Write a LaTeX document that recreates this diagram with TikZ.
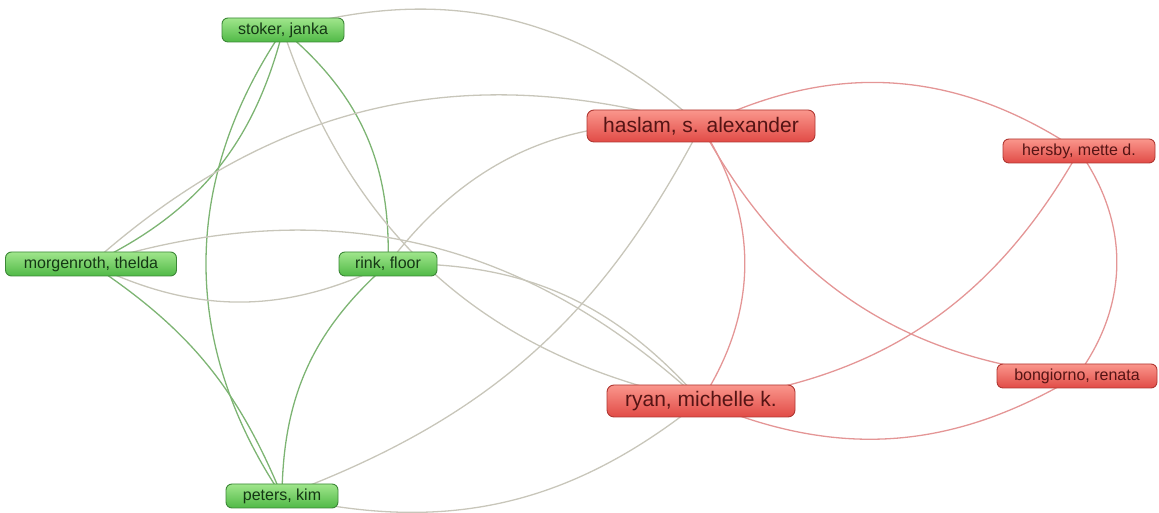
\documentclass[tikz,border=0pt]{standalone}
\usepackage{fontspec}
\setmainfont{Liberation Sans}
\usetikzlibrary{positioning,backgrounds}
\definecolor{grtop}{RGB}{160,230,140}
\definecolor{grbot}{RGB}{80,185,70}
\definecolor{grline}{RGB}{60,135,55}
\definecolor{grtext}{RGB}{20,55,20}
\definecolor{rdtop}{RGB}{250,150,140}
\definecolor{rdbot}{RGB}{225,75,70}
\definecolor{rdline}{RGB}{175,55,50}
\definecolor{rdtext}{RGB}{85,20,20}
\definecolor{tiegreen}{RGB}{125,180,115}
\definecolor{tiegray}{RGB}{200,198,186}
\definecolor{tiepink}{RGB}{228,150,150}
\tikzset{
  author/.style={rounded corners=6pt,minimum height=24pt,inner xsep=6pt,inner ysep=2pt,
    font=\fontsize{16}{16}\selectfont,line width=0.9pt},
  greenauthor/.style={author,draw=grline,top color=grtop,bottom color=grbot,text=grtext},
  redauthor/.style={author,draw=rdline,top color=rdtop,bottom color=rdbot,text=rdtext},
  bigauthor/.style={minimum height=32pt,rounded corners=7pt,font=\fontsize{21}{21}\selectfont},
  tie/.style={line width=1.3pt},
  greentie/.style={tie,draw=tiegreen},
  graytie/.style={tie,draw=tiegray},
  pinktie/.style={tie,draw=tiepink}
}

\begin{document}
\begin{tikzpicture}[x=1pt,y=1pt]
\useasboundingbox (0,0) rectangle (1159,513);
% authors
\node[greenauthor,minimum width=122pt] (stoker) at (283,483) {stoker, janka};
\node[greenauthor,minimum width=171pt] (morgenroth) at (91,249) {morgenroth, thelda};
\node[greenauthor,minimum width=98pt] (rink) at (388,249) {rink, floor};
\node[greenauthor,minimum width=112pt] (peters) at (282,17) {peters, kim};
\node[redauthor,bigauthor,minimum width=228pt] (haslam) at (701,387) {haslam, s. alexander};
\node[redauthor,bigauthor,minimum width=188pt] (ryan) at (701,112) {ryan, michelle k.};
\node[redauthor,minimum width=152pt] (hersby) at (1079,362) {hersby, mette d.};
\node[redauthor,minimum width=160pt] (bongiorno) at (1077,137) {bongiorno, renata};
% links
\begin{pgfonlayer}{background}
\draw[greentie] (stoker.center) to[bend left=25] (morgenroth.center);
\draw[greentie] (stoker.center) to[bend right=34] (peters.center);
\draw[greentie] (stoker.center) to[bend left=26] (rink.center);
\draw[greentie] (morgenroth.center) to[bend left=17] (peters.center);
\draw[greentie] (rink.center) to[bend right=24] (peters.center);
\draw[graytie] (morgenroth.center) to[bend right=26] (rink.center);
\draw[graytie] (stoker.center) to[bend left=29] (haslam.center);
\draw[graytie] (stoker.center) to[bend right=30] (ryan.center);
\draw[graytie] (morgenroth.center) to[bend left=29] (haslam.center);
\draw[graytie] (morgenroth.center) to[bend left=30] (ryan.center);
\draw[graytie] (rink.center) to[bend left=29] (haslam.center);
\draw[graytie] (rink.center) to[bend left=25] (ryan.center);
\draw[graytie] (peters.center) to[bend right=21] (haslam.center);
\draw[graytie] (peters.center) to[bend right=26] (ryan.center);
\draw[pinktie] (haslam.center) to[bend left=33] (ryan.center);
\draw[pinktie] (haslam.center) to[bend left=30] (hersby.center);
\draw[pinktie] (haslam.center) to[bend right=28] (bongiorno.center);
\draw[pinktie] (ryan.center) to[bend right=27] (hersby.center);
\draw[pinktie] (ryan.center) to[bend right=27] (bongiorno.center);
\draw[pinktie] (hersby.center) to[bend left=36] (bongiorno.center);
\end{pgfonlayer}
\end{tikzpicture}
\end{document}
